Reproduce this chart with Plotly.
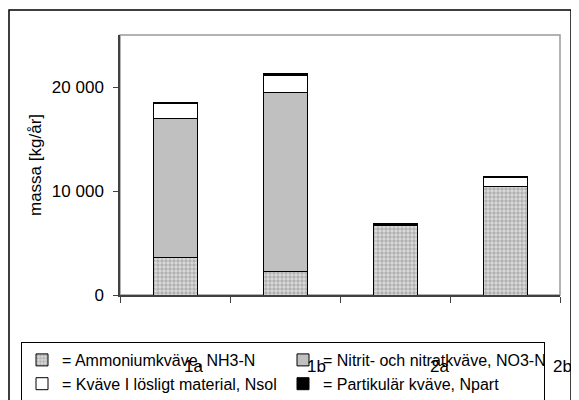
import plotly.graph_objects as go

categories = ["1a", "1b", "2a", "2b"]
nh3 = [3600, 2300, 6700, 10450]
no3 = [13350, 17200, 0, 0]
nsol = [1480, 1600, 30, 850]
npart = [120, 170, 100, 100]

names = [
    "= Ammoniumkväve, NH3-N",
    "= Nitrit- och nitratkväve, NO3-N",
    "= Kväve I lösligt material, Nsol",
    "= Partikulär kväve, Npart",
]

FONT = "Liberation Sans, Arial, sans-serif"
fig = go.Figure()

fig.add_trace(go.Bar(
    x=categories, y=nh3, name=names[0], width=0.4,
    marker=dict(color="#dcdcdc", line=dict(color="black", width=1),
                pattern=dict(shape=".", fgcolor="#858585", bgcolor="#dcdcdc",
                             size=4, solidity=0.6)),
))
fig.add_trace(go.Bar(
    x=categories, y=no3, name=names[1], width=0.4,
    marker=dict(color="#c0c0c0", line=dict(color="black", width=1)),
))
fig.add_trace(go.Bar(
    x=categories, y=nsol, name=names[2], width=0.4,
    marker=dict(color="white", line=dict(color="black", width=1)),
))
fig.add_trace(go.Bar(
    x=categories, y=npart, name=names[3], width=0.4,
    marker=dict(color="black", line=dict(color="black", width=1)),
))

# page body has an 8px margin, so the figure is 8px smaller than the window
OFF = 8
W, H = 579 - OFF, 400 - OFF
L, R, T, B = 112, 19, 27, 105
pw, ph = W - L - R, H - T - B

def px_x(p):  # reference window pixel -> paper fraction
    return (p - OFF - L) / pw

def px_y(p):
    return (H - B - (p - OFF)) / ph

# plot-area frame (grey) and outer chart border
fig.add_shape(type="rect", xref="paper", yref="paper", x0=0, x1=1, y0=0, y1=1,
              line=dict(color="#9a9a9a", width=1.5), layer="below")
fig.add_shape(type="rect", xref="paper", yref="paper",
              x0=px_x(9), x1=px_x(571), y0=px_y(420), y1=px_y(10),
              line=dict(color="black", width=1.5), layer="below")

# displaced category labels as in the reference
label_px = [193, 316, 439, 562]
for lab, p in zip(categories, label_px):
    fig.add_annotation(text=lab, x=px_x(p), y=px_y(366), xref="paper", yref="paper",
                       showarrow=False, xanchor="center", yanchor="middle",
                       font=dict(family=FONT, size=17, color="black"))

fig.update_layout(
    width=W, height=H,
    margin=dict(l=L, r=R, t=T, b=B, autoexpand=False),
    barmode="stack",
    bargap=0.6,
    plot_bgcolor="white",
    paper_bgcolor="white",
    separators=", ",
    font=dict(family=FONT, size=16, color="black"),
    showlegend=True,
    legend=dict(
        orientation="h", x=px_x(21), y=px_y(342), xanchor="left", yanchor="top",
        xref="paper", yref="paper",
        bordercolor="black", borderwidth=1, bgcolor="white",
        entrywidth=216, entrywidthmode="pixels",
        font=dict(family=FONT, size=16, color="black"),
        traceorder="normal", itemwidth=30, tracegroupgap=0,
    ),
    xaxis=dict(
        type="category", showticklabels=False, ticks="outside", ticklen=6,
        tickson="boundaries", tickcolor="#404040", showline=True,
        linecolor="#404040", linewidth=1.5, showgrid=False, zeroline=False,
        automargin=False,
    ),
    yaxis=dict(
        range=[0, 25000], tickvals=[0, 10000, 20000], tickformat=",d",
        ticks="outside", ticklen=5, tickcolor="#404040", showline=True,
        linecolor="#404040", linewidth=1.5, showgrid=False, zeroline=False,
        ticklabelstandoff=6, automargin=False,
        tickfont=dict(family=FONT, size=17, color="black"),
        title=dict(text="massa [kg/år]", standoff=6,
                   font=dict(family=FONT, size=17, color="black")),
    ),
)

fig.write_html("out.html")
